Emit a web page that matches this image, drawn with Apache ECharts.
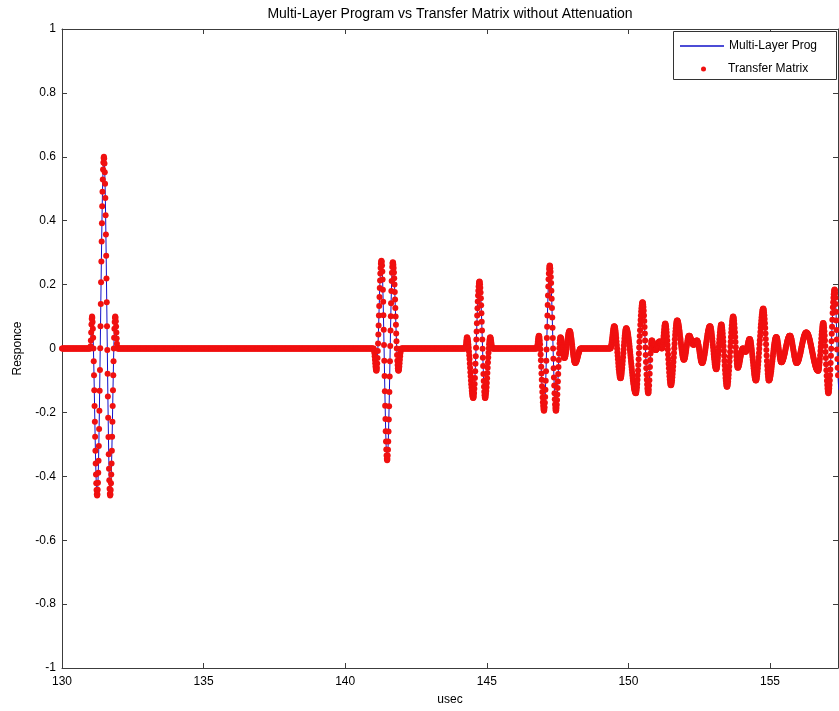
<!DOCTYPE html>
<html><head><meta charset="utf-8">
<script src="https://cdn.jsdelivr.net/npm/echarts@6/dist/echarts.min.js"></script>
<style>html,body{margin:0;padding:0;background:#fff}#c{width:839px;height:711px}</style>
</head><body><div id="c"></div>
<script>
const titleText = 'Multi-Layer Program vs Transfer Matrix without Attenuation';
const seriesNames = ['Multi-Layer Prog', 'Transfer Matrix'];
const xName = 'usec';
const yName = 'Responce';
const xMin = 130, xMax = 157.4, xInterval = 5;
const yMin = -1, yMax = 1, yInterval = 0.2;
const zeroStep = 0.02, sampleEnd = 157.44;
// non-zero stretches: start time, sample step, values (signal is 0 elsewhere)
const burstStarts = [131.00, 141.00, 144.24, 146.76, 149.36];
const burstSteps = [0.01, 0.01, 0.01, 0.01, 0.01];
const burst1 = [0, .007, .025, .05, .075, .093, .10,
 .096, .083, .062, .034, 0, -.04, -.084, -.131, -.18, -.229, -.276, -.32, -.36, -.394, -.422, -.443, -.456, -.46,
 -.456, -.442, -.42, -.389, -.351, -.305, -.252, -.195, -.132, -.067, .001, .07, .139, .207, .272, .335, .392, .445, .491, .529, .56, .582, .596, .60,
 .595, .579, .552, .516, .471, .417, .357, .29, .219, .145, .07, -.005, -.079, -.15, -.217, -.277, -.331, -.376, -.412, -.439, -.455, -.46,
 -.456, -.443, -.422, -.394, -.36, -.32, -.276, -.229, -.18, -.131, -.084, -.04, 0, .034, .062, .083, .096, .10,
 .096, .085, .069, .05, .031, .015, .004, 0];
const burst2 = [0, -.002, -.007, -.014, -.024, -.035, -.046, -.056, -.063, -.068, -.07,
 -.067, -.06, -.047, -.03, -.008, .016, .044, .072, .103, .133, .161, .189, .213, .235, .252, .265, .272, .275,
 .271, .26, .241, .216, .184, .146, .104, .059, .011, -.038, -.086, -.134, -.179, -.221, -.259, -.291, -.316, -.335, -.346, -.35,
 -.346, -.335, -.317, -.291, -.26, -.222, -.181, -.136, -.088, -.04, .008, .056, .101, .142, .18, .211, .237, .255, .266, .27,
 .268, .262, .252, .238, .22, .2, .177, .153, .127, .1, .074, .047, .023, 0, -.02, -.038, -.052, -.062, -.068, -.07,
 -.068, -.063, -.056, -.046, -.035, -.024, -.014, -.007, -.002, 0];
const burst3 = [0, .002, .009, .018, .026, .033, .035,
 .034, .031, .026, .02, .012, .002, -.009, -.021, -.033, -.047, -.06, -.074, -.087, -.10, -.112, -.122, -.132, -.14, -.147, -.151, -.154, -.155,
 -.153, -.148, -.139, -.126, -.111, -.092, -.071, -.048, -.024, .002, .028, .053, .079, .103, .126, .147, .166, .181, .194, .203, .208, .21,
 .208, .201, .19, .175, .157, .135, .11, .084, .056, .028, -.001, -.029, -.055, -.08, -.102, -.12, -.135, -.146, -.153, -.155,
 -.154, -.149, -.142, -.133, -.121, -.108, -.093, -.077, -.06, -.044, -.028, -.013, .001, .013, .022, .029, .034, .035,
 .034, .03, .024, .018, .011, .005, .001, 0];
const burst4 = [0, .002, .006, .012, .02, .028, .034, .038, .04,
 .038, .033, .024, .013, -.002, -.019, -.037, -.057, -.078, -.098, -.118, -.136, -.153, -.168, -.179, -.188, -.193, -.195,
 -.192, -.184, -.17, -.152, -.129, -.101, -.071, -.038, -.003, .033, .068, .103, .136, .166, .194, .217, .235, .249, .257, .26,
 .258, .251, .24, .224, .205, .181, .156, .127, .097, .065, .033, 0, -.032, -.062, -.091, -.116, -.14, -.159, -.175, -.186, -.193, -.195,
 -.193, -.186, -.176, -.161, -.144, -.124, -.103, -.08, -.058, -.036, -.016, .001, .016, .026, .033, .035,
 .034, .032, .028, .023, .017, .01, .003, -.005, -.012, -.018, -.023, -.027, -.029, -.03,
 -.029, -.027, -.024, -.02, -.015, -.009, -.002, .005, .013, .02, .027, .034, .04, .045, .049, .052, .054, .055,
 .054, .053, .05, .046, .04, .034, .028, .021, .013, .005, -.003, -.011, -.018, -.024, -.03, -.036, -.04, -.043, -.044, -.045,
 -.045, -.044, -.043, -.041, -.038, -.036, -.033, -.03, -.026, -.023, -.019, -.016, -.012, -.009, -.007, -.004, -.002, -.001, 0, 0];
const tail = [0, .001, .004, .008, .013, .02, .027, .035, .043, .05, .057, .062, .067, .069, .07,
 .069, .067, .063, .057, .05, .042, .033, .022, .011, 0, -.012, -.023, -.034, -.045, -.056, -.065, -.073, -.08, -.086, -.09, -.092, -.093,
 -.092, -.089, -.085, -.078, -.07, -.061, -.05, -.039, -.027, -.015, -.003, .009, .02, .031, .04, .048, .055, .059, .062, .063,
 .063, .061, .059, .056, .052, .048, .043, .036, .03, .023, .015, .007, -.002, -.011, -.02, -.029, -.039, -.048, -.057, -.066, -.075, -.084, -.092, -.1, -.107, -.113, -.12, -.125, -.129, -.133, -.136, -.138, -.139, -.14,
 -.139, -.135, -.129, -.121, -.111, -.098, -.084, -.069, -.052, -.034, -.016, .003, .021, .039, .057, .074, .089, .103, .116, .126, .134, .14, .144, .145,
 .143, .138, .13, .118, .103, .086, .067, .047, .025, .003, -.02, -.042, -.062, -.081, -.098, -.113, -.125, -.133, -.138, -.14,
 -.137, -.129, -.116, -.099, -.079, -.058, -.036, -.016, .001, .014, .022, .025,
 .025, .024, .022, .019, .017, .013, .01, .007, .003, .001, -.002, -.004, -.005, -.005,
 -.005, -.004, -.002, 0, .003, .006, .009, .011, .014, .017, .019, .021, .022, .022,
 .021, .019, .015, .011, .007, .003, .001, 0,
 .001, .005, .011, .02, .029, .039, .049, .059, .067, .073, .077, .078,
 .077, .073, .068, .06, .05, .038, .025, .011, -.003, -.019, -.034, -.048, -.062, -.075, -.087, -.097, -.105, -.11, -.114, -.115,
 -.114, -.111, -.106, -.099, -.09, -.08, -.069, -.056, -.042, -.028, -.014, .001, .015, .029, .042, .053, .063, .072, .079, .084, .087, .088,
 .088, .086, .083, .08, .075, .07, .064, .057, .05, .042, .034, .027, .019, .011, .003, -.004, -.011, -.017, -.022, -.027, -.03, -.033, -.035, -.035,
 -.034, -.033, -.03, -.026, -.022, -.016, -.01, -.004, .003, .009, .015, .021, .027, .031, .035, .038, .039, .04,
 .04, .039, .038, .036, .034, .031, .029, .026, .023, .021, .018, .016, .014, .013, .012, .012,
 .012, .013, .014, .015, .017, .019, .02, .022, .023, .024, .025, .025,
 .024, .023, .02, .017, .012, .008, .002, -.004, -.01, -.016, -.022, -.028, -.032, -.037, -.04, -.043, -.044, -.045,
 -.045, -.044, -.042, -.039, -.036, -.032, -.028, -.023, -.018, -.012, -.006, 0, .006, .013, .019, .025, .031, .037, .043, .048, .053, .057, .061, .064, .067, .068, .07, .07,
 .069, .067, .064, .059, .054, .047, .039, .031, .022, .012, .003, -.007, -.017, -.026, -.034, -.042, -.049, -.054, -.059, -.062, -.064, -.065,
 -.064, -.061, -.056, -.049, -.04, -.03, -.019, -.007, .005, .017, .029, .04, .05, .059, .066, .071, .074, .075,
 .074, .07, .064, .056, .047, .035, .022, .008, -.007, -.023, -.038, -.053, -.067, -.08, -.092, -.101, -.109, -.115, -.119, -.12,
 -.119, -.116, -.11, -.103, -.093, -.082, -.07, -.056, -.041, -.026, -.01, .006, .021, .036, .05, .062, .073, .083, .09, .096, .099, .10,
 .098, .094, .087, .077, .064, .051, .036, .02, .004, -.011, -.024, -.037, -.047, -.054, -.058, -.06,
 -.06, -.058, -.056, -.053, -.049, -.045, -.04, -.035, -.03, -.025, -.02, -.015, -.011, -.007, -.004, -.002, 0, 0,
 0, -.001, -.002, -.003, -.005, -.007, -.008, -.009, -.01, -.01,
 -.009, -.008, -.006, -.002, .001, .006, .01, .014, .019, .022, .026, .028, .029, .03,
 .029, .027, .024, .02, .014, .008, 0, -.008, -.017, -.026, -.035, -.044, -.053, -.062, -.07, -.078, -.084, -.09, -.094, -.097, -.099, -.10,
 -.099, -.097, -.093, -.087, -.08, -.072, -.062, -.051, -.04, -.027, -.014, -.001, .013, .026, .039, .052, .065, .076, .087, .097, .105, .112, .118, .122, .124, .125,
 .124, .12, .113, .104, .092, .079, .064, .047, .03, .013, -.005, -.022, -.039, -.054, -.067, -.079, -.088, -.095, -.099, -.10,
 -.099, -.098, -.096, -.092, -.088, -.083, -.077, -.071, -.064, -.056, -.048, -.04, -.032, -.024, -.016, -.008, 0, .007, .013, .019, .024, .028, .032, .034, .035, .036,
 .035, .034, .031, .027, .022, .016, .01, .003, -.004, -.01, -.017, -.023, -.029, -.034, -.038, -.041, -.042, -.043,
 -.043, -.042, -.041, -.039, -.037, -.035, -.032, -.029, -.026, -.022, -.018, -.014, -.01, -.006, -.001, .003, .007, .011, .015, .019, .023, .026, .029, .032, .034, .036, .038, .039, .04, .04,
 .04, .039, .037, .034, .031, .028, .023, .019, .014, .008, .003, -.003, -.008, -.013, -.019, -.024, -.028, -.033, -.036, -.039, -.042, -.044, -.045, -.045,
 -.045, -.044, -.043, -.042, -.04, -.038, -.035, -.033, -.03, -.026, -.022, -.019, -.015, -.011, -.006, -.002, .003, .007, .011, .016, .02, .024, .027, .031, .035, .038, .04, .043, .045, .047, .048, .049, .05, .05,
 .05, .049, .048, .047, .046, .044, .042, .04, .037, .034, .031, .027, .024, .02, .016, .012, .008, .003, -.001, -.006, -.01, -.014, -.019, -.023, -.028, -.032, -.036, -.04, -.044, -.047, -.051, -.054, -.057, -.06, -.062, -.064, -.066, -.067, -.068, -.069, -.07, -.07,
 -.069, -.066, -.06, -.052, -.043, -.033, -.021, -.008, .005, .018, .031, .043, .053, .062, .07, .076, .079, .08,
 .078, .073, .065, .054, .041, .025, .008, -.011, -.03, -.049, -.068, -.085, -.101, -.114, -.125, -.133, -.138, -.14,
 -.138, -.133, -.125, -.114, -.1, -.084, -.066, -.045, -.023, -.001, .023, .046, .068, .09, .111, .129, .145, .159, .17, .178, .183, .185,
 .182, .173, .159, .139, .115, .088, .058, .028, -.003, -.033, -.06, -.084, -.104, -.118, -.127, -.13];
const segments = [burst1, burst2, burst3, burst4, tail];

// assemble samples: segment samples plus the zero baseline outside the segments
const pts = [];
const ranges = segments.map((seg, s) => [burstStarts[s], burstStarts[s] + (seg.length - 1) * burstSteps[s]]);
segments.forEach((seg, s) => {
  seg.forEach((v, i) => pts.push([+(burstStarts[s] + i * burstSteps[s]).toFixed(2), v]));
});
const nZero = Math.round((sampleEnd - xMin) / zeroStep);
for (let i = 0; i <= nZero; i++) {
  const t = +(xMin + i * zeroStep).toFixed(2);
  if (!ranges.some(r => t >= r[0] - 1e-9 && t <= r[1] + 1e-9)) pts.push([t, 0]);
}
pts.sort((a, b) => a[0] - b[0]);

const axisColor = '#3c3c3c';
const lineBlue = '#1010c8';
const dotRed = '#f01010';
const font = 'Liberation Sans, Arial, sans-serif';
const chart = echarts.init(document.getElementById('c'), null, {renderer: 'canvas'});
const baseX = {
  type: 'value', min: xMin, max: xMax, interval: xInterval,
  axisLine: {show: true, onZero: false, lineStyle: {color: axisColor, width: 1}},
  axisTick: {show: true, inside: true, length: 5, lineStyle: {color: axisColor}},
  splitLine: {show: false}
};
const baseY = {
  type: 'value', min: yMin, max: yMax, interval: yInterval,
  axisLine: {show: true, onZero: false, lineStyle: {color: axisColor, width: 1}},
  axisTick: {show: true, inside: true, length: 5, lineStyle: {color: axisColor}},
  splitLine: {show: false}
};
chart.setOption({
  animation: false,
  backgroundColor: '#fff',
  title: {
    text: titleText, left: 445, top: 2, textAlign: 'center',
    textStyle: {fontSize: 14, fontWeight: 'normal', color: '#000', fontFamily: font}
  },
  grid: {left: 62, right: 1, top: 29, bottom: 43, containLabel: false},
  xAxis: [
    Object.assign({}, baseX, {
      position: 'bottom', name: xName, nameLocation: 'middle', nameGap: 26,
      nameTextStyle: {fontSize: 12, color: '#000', fontFamily: font},
      axisLabel: {show: true, showMaxLabel: false, margin: 8, fontSize: 12, color: '#000', fontFamily: font}
    }),
    Object.assign({}, baseX, {position: 'top', axisLabel: {show: false}})
  ],
  yAxis: [
    Object.assign({}, baseY, {
      position: 'left', name: yName, nameLocation: 'middle', nameGap: 38, nameRotate: 90,
      nameTextStyle: {fontSize: 12, color: '#000', fontFamily: font},
      axisLabel: {show: true, margin: 6, fontSize: 12, color: '#000', fontFamily: font}
    }),
    Object.assign({}, baseY, {position: 'right', axisLabel: {show: false}})
  ],
  graphic: [{
    type: 'rect', z: 3, shape: {x: 673.5, y: 31.5, width: 163, height: 48},
    style: {fill: '#fff', stroke: '#333', lineWidth: 1}
  }],
  legend: [
    {data: [{name: seriesNames[0], icon: 'rect'}], left: 680, top: 40, itemWidth: 44, itemHeight: 1.5, itemGap: 0, padding: 0, z: 4,
     textStyle: {fontSize: 12, color: '#000', fontFamily: font}},
    {data: [{name: seriesNames[1], icon: 'circle'}], left: 701, top: 63, itemWidth: 5, itemHeight: 5, itemGap: 0, padding: 0, z: 4,
     textStyle: {fontSize: 12, color: '#000', fontFamily: font, padding: [0, 0, 0, 17]}}
  ],
  series: [
    {name: seriesNames[0], type: 'line', data: pts, xAxisIndex: 0, yAxisIndex: 0,
     symbol: 'none', showSymbol: false, clip: true, z: 2,
     lineStyle: {color: lineBlue, width: 1}, itemStyle: {color: lineBlue}},
    {name: seriesNames[1], type: 'scatter', data: pts, xAxisIndex: 0, yAxisIndex: 0,
     symbol: 'circle', symbolSize: 6, clip: true, z: 2, progressive: 0, large: false,
     itemStyle: {color: dotRed, opacity: 1}}
  ]
});
</script></body></html>
